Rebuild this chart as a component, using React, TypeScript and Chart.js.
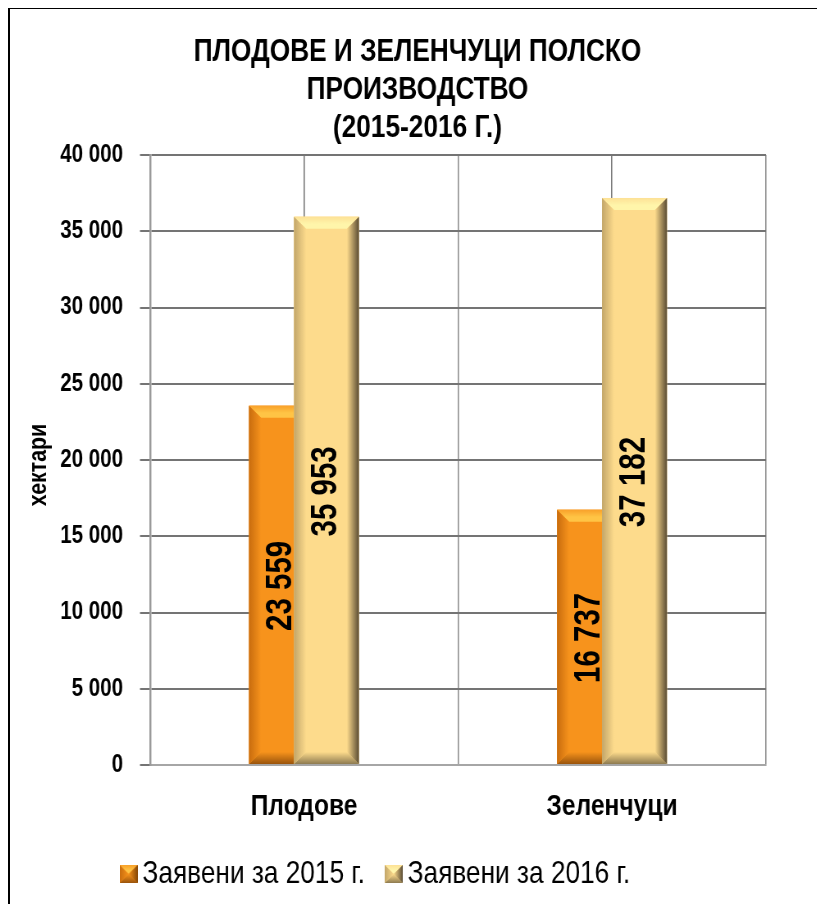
import React, { useEffect, useRef } from 'react';
import { Chart, registerables } from 'chart.js';

Chart.register(...registerables);

const categories = ['Плодове', 'Зеленчуци'];
const series2015 = [23559, 16737];
const series2016 = [35953, 37182];
const seriesNames = ['Заявени за 2015 г.', 'Заявени за 2016 г.'];
const titleLines = ['ПЛОДОВЕ И ЗЕЛЕНЧУЦИ ПОЛСКО', 'ПРОИЗВОДСТВО', '(2015-2016 Г.)'];
const yAxisTitle = 'хектари';
const yMin = 0;
const yMax = 40000;
const yStep = 5000;

// No narrow font is installed: the canvas is drawn wider and shown condensed horizontally.
const CSS_W = 815;
const CSS_H = 895;
const SX = 0.82;
const W_INT = Math.round(CSS_W / SX);
const sx = (v: number) => v / SX;

const FONT = "'Liberation Sans', Arial, sans-serif";

const fmt = (v: number) => String(Math.round(v)).replace(/\B(?=(\d{3})+(?!\d))/g, ' ');

type Pal = { base: string; top1: string; top2: string; left1: string; right1: string; bottom1: string };
const PAL: Pal[] = [
  { base: '#F7931C', top1: '#FFC445', top2: '#F9A12A', left1: '#C86C0E', right1: '#874806', bottom1: '#9A540C' },
  { base: '#FDDB8C', top1: '#FFF5AA', top2: '#FDE196', left1: '#C2A66A', right1: '#5A4C34', bottom1: '#8E7B51' },
];

function poly(ctx: CanvasRenderingContext2D, pts: number[][], fill: any) {
  ctx.beginPath();
  ctx.moveTo(pts[0][0], pts[0][1]);
  for (let i = 1; i < pts.length; i++) ctx.lineTo(pts[i][0], pts[i][1]);
  ctx.closePath();
  ctx.fillStyle = fill;
  ctx.fill();
}

function drawBevel(ctx: CanvasRenderingContext2D, l: number, t: number, r: number, b: number, p: Pal, sizeX: number, sizeY: number) {
  const k = Math.min(1, (r - l) / 2 / sizeX, (b - t) / 2 / sizeY);
  const s = sizeX * k;
  const v = sizeY * k;
  ctx.save();
  ctx.fillStyle = p.base;
  ctx.fillRect(l, t, r - l, b - t);
  let g = ctx.createLinearGradient(0, t, 0, t + v);
  g.addColorStop(0, p.top2);
  g.addColorStop(0.6, p.top1);
  g.addColorStop(1, p.top1);
  poly(ctx, [[l, t], [r, t], [r - s, t + v], [l + s, t + v]], g);
  g = ctx.createLinearGradient(0, b - v, 0, b);
  g.addColorStop(0, p.base);
  g.addColorStop(1, p.bottom1);
  poly(ctx, [[l, b], [r, b], [r - s, b - v], [l + s, b - v]], g);
  g = ctx.createLinearGradient(l, 0, l + s, 0);
  g.addColorStop(0, p.left1);
  g.addColorStop(1, p.base);
  poly(ctx, [[l, t], [l + s, t + v], [l + s, b - v], [l, b]], g);
  g = ctx.createLinearGradient(r - s, 0, r, 0);
  g.addColorStop(0, p.base);
  g.addColorStop(1, p.right1);
  poly(ctx, [[r, t], [r, b], [r - s, b - v], [r - s, t + v]], g);
  ctx.restore();
}

function makeIcon(p: Pal): HTMLCanvasElement {
  const c = document.createElement('canvas');
  c.width = Math.round(sx(18));
  c.height = 18;
  const ctx = c.getContext('2d')!;
  drawBevel(ctx, 0, 0, c.width, 18, p, c.width / 2, 9);
  return c;
}

const LEGEND_CENTER = sx(369);

// draws text rotated by -90deg so that it appears in the condensed face on screen
function rotatedText(ctx: CanvasRenderingContext2D, text: string, x: number, y: number, font: string) {
  ctx.save();
  ctx.translate(x, y);
  ctx.scale(1 / SX, 1);
  ctx.rotate(-Math.PI / 2);
  ctx.scale(SX, 1);
  ctx.font = font;
  ctx.fillStyle = '#000';
  ctx.textAlign = 'center';
  ctx.textBaseline = 'middle';
  ctx.fillText(text, 0, 0);
  ctx.restore();
}

const barPlugin = {
  id: 'bevelBars',
  afterDatasetsDraw(chart: any) {
    const ctx: CanvasRenderingContext2D = chart.ctx;
    chart.data.datasets.forEach((ds: any, di: number) => {
      const meta = chart.getDatasetMeta(di);
      meta.data.forEach((el: any) => {
        const { x, y, base, width } = el.getProps(['x', 'y', 'base', 'width'], true);
        drawBevel(ctx, x - width / 2, Math.min(y, base), x + width / 2, Math.max(y, base), PAL[di], sx(12), 12);
      });
      meta.data.forEach((el: any, i: number) => {
        const { x, y, base } = el.getProps(['x', 'y', 'base'], true);
        rotatedText(ctx, fmt(ds.data[i]), x, (y + base) / 2 + 1, `bold 36px ${FONT}`);
      });
    });
  },
  afterDraw(chart: any) {
    const ca = chart.chartArea;
    rotatedText(chart.ctx, yAxisTitle, sx(29), (ca.top + ca.bottom) / 2 + 5, `bold 26px ${FONT}`);
  },
};

const shiftPlugin = {
  id: 'shiftBoxes',
  afterLayout(chart: any) {
    const tb = chart.titleBlock;
    if (tb) {
      const d = chart.width / 2 - (tb.left + tb.right) / 2;
      tb.left += d;
      tb.right += d;
    }
    const lg = chart.legend;
    if (lg) {
      const d = LEGEND_CENTER - (lg.left + lg.right) / 2;
      lg.left += d;
      lg.right += d;
    }
  },
};

export default function App() {
  const ref = useRef<HTMLCanvasElement>(null);
  useEffect(() => {
    const icons = PAL.map((p) => makeIcon(p));
    const chart = new Chart(ref.current!, {
      type: 'bar',
      data: {
        labels: categories,
        datasets: [
          { label: seriesNames[0], data: series2015, backgroundColor: PAL[0].base, borderWidth: 0, categoryPercentage: 0.292, barPercentage: 1.444 },
          { label: seriesNames[1], data: series2016, backgroundColor: PAL[1].base, borderWidth: 0, categoryPercentage: 0.292, barPercentage: 1.444 },
        ],
      },
      options: {
        responsive: false,
        animation: false,
        events: [],
        devicePixelRatio: 1,
        layout: { padding: { left: 0, right: sx(59), top: 0, bottom: 4 } },
        scales: {
          x: {
            type: 'category',
            position: 'bottom',
            offset: true,
            grid: { display: true, offset: true, color: '#8c8c8c', lineWidth: sx(1.3), drawTicks: false },
            border: { display: true, color: '#a6a6a6', width: 2 },
            ticks: { color: '#000', padding: 24, font: { family: FONT, size: 30, weight: 'bold' } },
            afterFit: (s: any) => { s.height = 59; },
          },
          xMid: {
            type: 'category',
            position: 'top',
            offset: true,
            grid: { display: true, offset: false, color: '#7a7a7a', lineWidth: sx(1.3), drawTicks: false },
            border: { display: false },
            ticks: { display: false },
            afterFit: (s: any) => { s.height = 0; },
          },
          y: {
            min: yMin,
            max: yMax,
            ticks: {
              stepSize: yStep,
              color: '#000',
              padding: sx(17),
              font: { family: FONT, size: 25, weight: 'bold' },
              callback: (v: any) => fmt(Number(v)),
            },
            grid: { color: '#747474', lineWidth: 2, drawTicks: true, tickLength: sx(10) },
            border: { display: true, color: '#9a9a9a', width: sx(2) },
            title: { display: false, text: yAxisTitle },
            afterFit: (s: any) => { s.width = sx(140); },
          },
        },
        plugins: {
          title: {
            display: true,
            text: titleLines,
            color: '#000',
            font: { family: FONT, size: 32, weight: 'bold', lineHeight: '38px' },
            padding: { top: 24, bottom: 8 },
          },
          legend: {
            position: 'bottom',
            labels: {
              color: '#000',
              font: { family: FONT, size: 32 },
              usePointStyle: true,
              pointStyleWidth: 2,
              boxHeight: 18,
              padding: 34,
              generateLabels: () =>
                seriesNames.map((n, i) => ({
                  text: n,
                  pointStyle: icons[i],
                  fillStyle: PAL[i].base,
                  strokeStyle: 'transparent',
                  lineWidth: 0,
                  hidden: false,
                  datasetIndex: i,
                })),
            },
          },
          tooltip: { enabled: false },
        },
      } as any,
      plugins: [barPlugin, shiftPlugin],
    });
    return () => chart.destroy();
  }, []);

  return (
    <div
      style={{
        marginTop: -1,
        borderLeft: '2px solid #000',
        borderTop: '2px solid #000',
        width: CSS_W,
        height: CSS_H,
        overflow: 'hidden',
        background: '#fff',
      }}
    >
      <canvas
        ref={ref}
        width={W_INT}
        height={CSS_H}
        style={{ display: 'block', width: CSS_W + 'px', height: CSS_H + 'px' }}
      />
    </div>
  );
}
